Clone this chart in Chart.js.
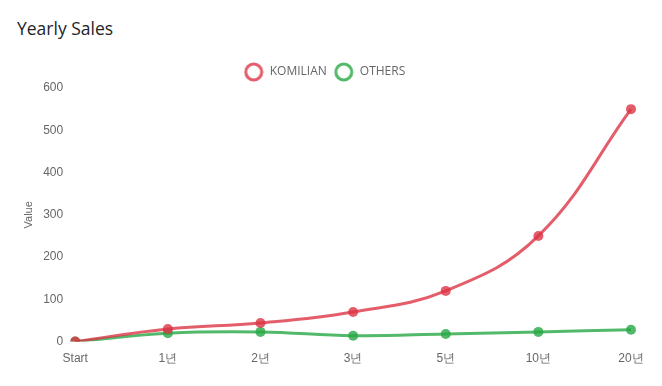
<!DOCTYPE html>
<html><head><meta charset="utf-8">
<script src="https://cdn.jsdelivr.net/npm/chart.js@4/dist/chart.umd.min.js"></script>
<style>
html,body{margin:0;padding:0;background:#fff;}
#wrap{position:relative;width:662px;height:386px;}
#title{position:absolute;left:17px;top:16px;font-family:"Open Sans";font-size:17.5px;color:#212529;}
canvas{position:absolute;left:0;top:0;}
</style></head>
<body><div id="wrap"><div id="title">Yearly Sales</div><canvas id="c" width="662" height="386"></canvas></div>
<script>
const categories = ['Start','1년','2년','3년','5년','10년','20년'];
const komilian = [0, 30, 44, 70, 120, 250, 550];
const others = [0, 20, 23, 14, 18, 23, 28];
const seriesNames = ['KOMILIAN','OTHERS'];
const red = 'rgba(220,53,69,0.8)';
const green = 'rgba(40,167,69,0.8)';
const colors = [red, green];
function ring(color){
  const c = document.createElement('canvas'); c.width = 20; c.height = 20;
  const g = c.getContext('2d'); g.strokeStyle = color; g.lineWidth = 3;
  g.beginPath(); g.arc(10,10,8,0,Math.PI*2); g.stroke(); return c;
}
const rings = colors.map(ring);
new Chart(document.getElementById('c'), {
  type:'line',
  data:{labels:categories,datasets:[
    {label:seriesNames[0],data:komilian,borderColor:red,backgroundColor:'#fff',pointBackgroundColor:red,pointBorderColor:red,borderWidth:3,pointRadius:5,pointBorderWidth:0,tension:0.4,fill:false},
    {label:seriesNames[1],data:others,borderColor:green,backgroundColor:'#fff',pointBackgroundColor:green,pointBorderColor:green,borderWidth:3,pointRadius:5,pointBorderWidth:0,tension:0.4,fill:false}
  ]},
  options:{responsive:false,animation:false,
    layout:{padding:{top:59,right:31,left:18,bottom:18}},
    plugins:{legend:{labels:{usePointStyle:true,pointStyleWidth:20,boxHeight:12,font:{family:'Open Sans',size:12},color:'#666',padding:7,
      generateLabels:(chart)=>chart.data.datasets.map((d,i)=>({text:d.label,fillStyle:'#fff',strokeStyle:colors[i],lineWidth:3,pointStyle:rings[i],fontColor:'#666',datasetIndex:i,hidden:false}))}},tooltip:{enabled:false}},
    scales:{
      x:{grid:{display:false},border:{display:false},ticks:{color:'#666',font:{family:'Liberation Sans',size:12},maxRotation:0,padding:2}},
      y:{min:0,max:600,grid:{display:false},border:{display:false},ticks:{stepSize:100,color:'#666',font:{family:'Liberation Sans',size:12},padding:4},
         title:{display:true,text:'Value',color:'#666',font:{family:'Liberation Sans',size:11}}}
    }
  }
});
</script></body></html>
